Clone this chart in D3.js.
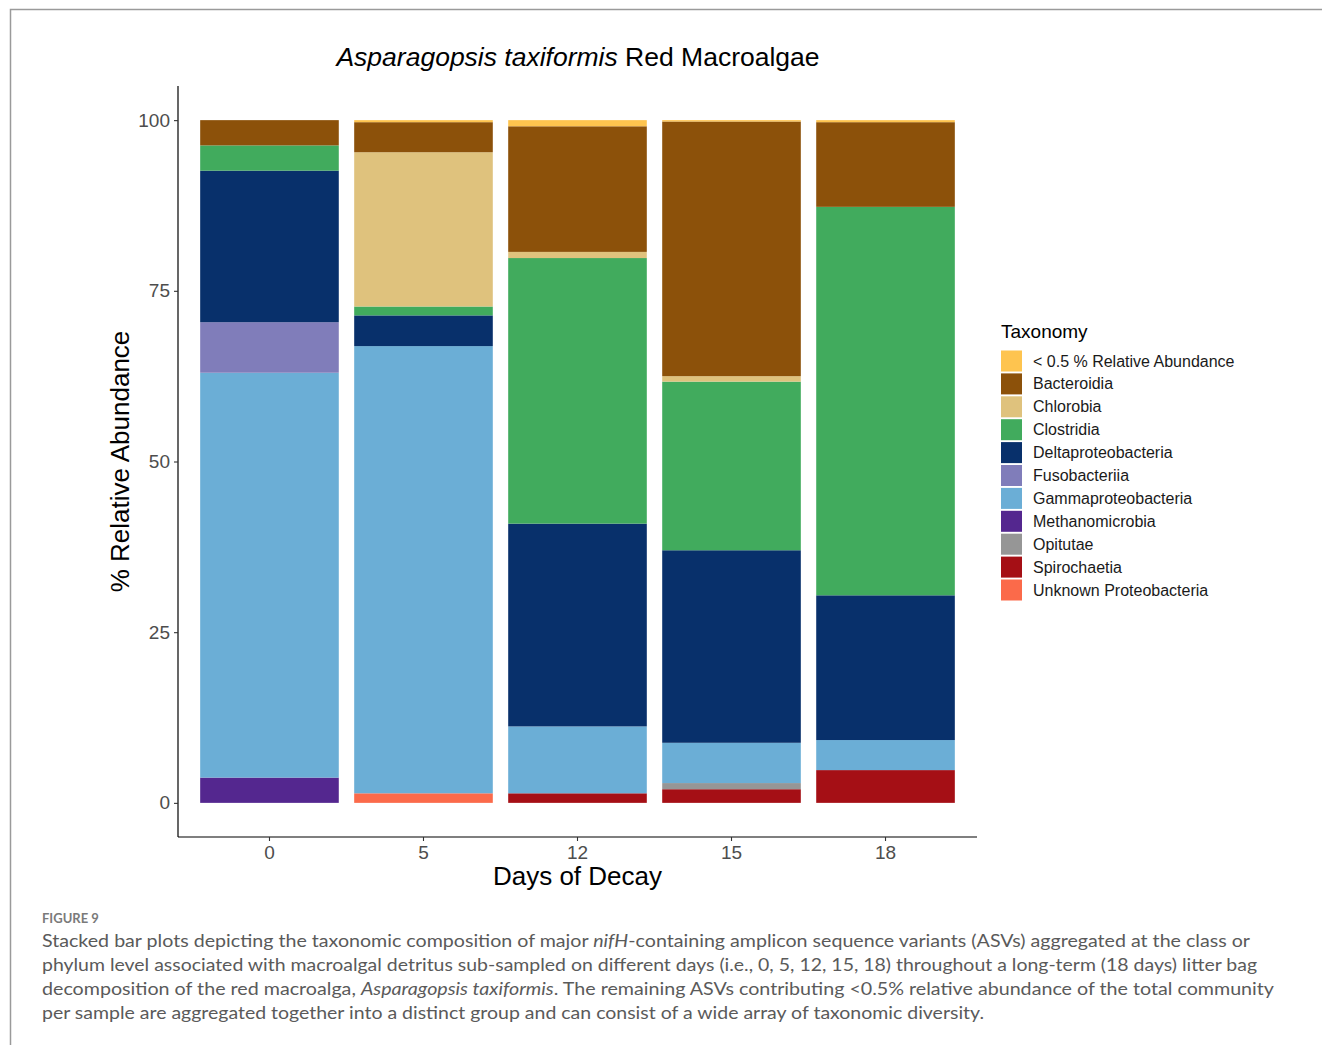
<!DOCTYPE html>
<html>
<head>
<meta charset="utf-8">
<script src="https://cdn.jsdelivr.net/npm/d3@7"></script>
<style>
  html, body { margin: 0; padding: 0; background: #fff; }
  svg { display: block; }
</style>
</head>
<body>
<svg id="fig" width="1322" height="1045"></svg>
<script>
// Sampling days (x categories)
const days = ["0", "5", "12", "15", "18"];

// Taxa in legend order (top of each stack first)
const taxa = [
  "< 0.5 % Relative Abundance",
  "Bacteroidia",
  "Chlorobia",
  "Clostridia",
  "Deltaproteobacteria",
  "Fusobacteriia",
  "Gammaproteobacteria",
  "Methanomicrobia",
  "Opitutae",
  "Spirochaetia",
  "Unknown Proteobacteria"
];

const taxaColors = [
  "#FEC44F", "#8C510A", "#DFC27D", "#41AB5D", "#08306B", "#807DBA",
  "#6BAED6", "#54278F", "#969696", "#A50F15", "#FB6A4A"
];

// % relative abundance per taxon, one value per day (0, 5, 12, 15, 18)
const lowAbundance        = [0.0, 0.3, 0.9, 0.2, 0.3];
const bacteroidia         = [3.7, 4.4, 18.4, 37.3, 12.4];
const chlorobia           = [0.0, 22.6, 0.9, 0.8, 0.0];
const clostridia          = [3.7, 1.3, 38.9, 24.7, 56.9];
const deltaproteobacteria = [22.2, 4.5, 29.7, 28.2, 21.2];
const fusobacteriia       = [7.4, 0.0, 0.0, 0.0, 0.0];
const gammaproteobacteria = [59.3, 65.5, 9.8, 5.9, 4.4];
const methanomicrobia     = [3.7, 0.0, 0.0, 0.0, 0.0];
const opitutae            = [0.0, 0.0, 0.0, 0.9, 0.0];
const spirochaetia        = [0.0, 0.0, 1.4, 2.0, 4.8];
const unknownProteo       = [0.0, 1.4, 0.0, 0.0, 0.0];

const yTicks = [0, 25, 50, 75, 100];

const seriesValues = [
  lowAbundance, bacteroidia, chlorobia, clostridia, deltaproteobacteria,
  fusobacteriia, gammaproteobacteria, methanomicrobia, opitutae,
  spirochaetia, unknownProteo
];

// Table of rows for d3.stack
const rows = days.map((d, i) => {
  const r = { day: d };
  taxa.forEach((t, k) => { r[t] = seriesValues[k][i]; });
  return r;
});

const svg = d3.select("#fig");
const FONT = "'Liberation Sans', Arial, Helvetica, sans-serif";

// Page frame
svg.append("path")
  .attr("d", "M10.5,1045 L10.5,9.5 L1322,9.5")
  .attr("fill", "none")
  .attr("stroke", "#9a9a9a")
  .attr("stroke-width", 1.5);

// Plot panel
const panel = { left: 178, right: 977, top: 86, bottom: 837 };

const x = d3.scaleBand()
  .domain(days)
  .range([panel.left, panel.right])
  .paddingInner(0.1)
  .paddingOuter(0.144);

const y = d3.scaleLinear()
  .domain([-5, 105])
  .range([panel.bottom, panel.top]);

const color = d3.scaleOrdinal().domain(taxa).range(taxaColors);

// Stack from the bottom upwards: last legend entry at the base
const stack = d3.stack().keys(taxa.slice().reverse());
const stacked = stack(rows);

const barsG = svg.append("g");
stacked.forEach(layer => {
  barsG.append("g")
    .attr("fill", color(layer.key))
    .selectAll("rect")
    .data(layer.filter(d => d[1] - d[0] > 0))
    .join("rect")
      .attr("x", d => x(d.data.day))
      .attr("width", x.bandwidth())
      .attr("y", d => y(d[1]))
      .attr("height", d => y(d[0]) - y(d[1]));
});

// Y axis
const yAxis = svg.append("g")
  .attr("transform", `translate(${panel.left},0)`)
  .call(d3.axisLeft(y).tickValues(yTicks).tickSize(4).tickPadding(4));
yAxis.select(".domain").attr("d", `M0,${panel.top}V${panel.bottom}`)
  .attr("stroke", "#000").attr("stroke-width", 1.2);
yAxis.selectAll(".tick line").attr("stroke", "#333").attr("stroke-width", 1.1);
yAxis.selectAll(".tick text")
  .attr("font-family", FONT).attr("font-size", 19).attr("fill", "#4D4D4D");

// X axis
const xAxis = svg.append("g")
  .attr("transform", `translate(0,${panel.bottom})`)
  .call(d3.axisBottom(x).tickSize(4).tickPadding(5).tickSizeOuter(0));
xAxis.select(".domain").attr("d", `M${panel.left},0H${panel.right}`)
  .attr("stroke", "#000").attr("stroke-width", 1.2);
xAxis.selectAll(".tick line").attr("stroke", "#333").attr("stroke-width", 1.1);
xAxis.selectAll(".tick text")
  .attr("font-family", FONT).attr("font-size", 19).attr("fill", "#4D4D4D");

// Axis titles
svg.append("text")
  .attr("x", (panel.left + panel.right) / 2)
  .attr("y", 885)
  .attr("text-anchor", "middle")
  .attr("font-family", FONT).attr("font-size", 26).attr("fill", "#000")
  .text("Days of Decay");

svg.append("text")
  .attr("transform", `translate(129,${(panel.top + panel.bottom) / 2}) rotate(-90)`)
  .attr("text-anchor", "middle")
  .attr("font-family", FONT).attr("font-size", 26).attr("fill", "#000")
  .text("% Relative Abundance");

// Chart title
const title = svg.append("text")
  .attr("x", 578).attr("y", 66)
  .attr("text-anchor", "middle")
  .attr("font-family", FONT).attr("font-size", 26.5).attr("fill", "#000");
title.append("tspan").attr("font-style", "italic").text("Asparagopsis taxiformis");
title.append("tspan").text(" Red Macroalgae");

// Legend
const legend = svg.append("g").attr("transform", "translate(1001,0)");
legend.append("text")
  .attr("x", 0).attr("y", 338)
  .attr("font-family", FONT).attr("font-size", 19).attr("fill", "#000")
  .text("Taxonomy");

const keyStep = 22.9, keyTop = 350.5, keySize = 21;
const items = legend.selectAll("g.item")
  .data(taxa)
  .join("g")
    .attr("class", "item")
    .attr("transform", (d, i) => `translate(0,${keyTop + i * keyStep})`);
items.append("rect")
  .attr("width", keySize).attr("height", keySize)
  .attr("fill", d => color(d));
items.append("text")
  .attr("x", 32).attr("y", keySize / 2)
  .attr("dy", "0.35em")
  .attr("font-family", FONT).attr("font-size", 16).attr("fill", "#1a1a1a")
  .text(d => d);

// Figure caption
const CAP = "Lato, 'Open Sans', 'Noto Sans', sans-serif";
svg.append("text")
  .attr("x", 42).attr("y", 923)
  .attr("font-family", CAP).attr("font-size", 13).attr("font-weight", 700)
  .attr("fill", "#7a7a7a")
  .text("FIGURE 9");

const captionLines = [
  { w: 1208, parts: [
    ["Stacked bar plots depicting the taxonomic composition of major ", false],
    ["nifH", true],
    ["-containing amplicon sequence variants (ASVs) aggregated at the class or", false]] },
  { w: 1215, parts: [
    ["phylum level associated with macroalgal detritus sub-sampled on different days (i.e., 0, 5, 12, 15, 18) throughout a long-term (18 days) litter bag", false]] },
  { w: 1232, parts: [
    ["decomposition of the red macroalga, ", false],
    ["Asparagopsis taxiformis", true],
    [". The remaining ASVs contributing <0.5% relative abundance of the total community", false]] },
  { w: 942, parts: [
    ["per sample are aggregated together into a distinct group and can consist of a wide array of taxonomic diversity.", false]] }
];

captionLines.forEach((line, i) => {
  const t = svg.append("text")
    .attr("x", 42).attr("y", 947 + i * 24)
    .attr("font-family", CAP).attr("font-size", 17.5)
    .attr("fill", "#5a5a5a")
    .attr("textLength", line.w)
    .attr("lengthAdjust", "spacingAndGlyphs");
  line.parts.forEach(([s, it]) => {
    const sp = t.append("tspan").text(s);
    if (it) sp.attr("font-style", "italic");
  });
});
</script>
</body>
</html>
